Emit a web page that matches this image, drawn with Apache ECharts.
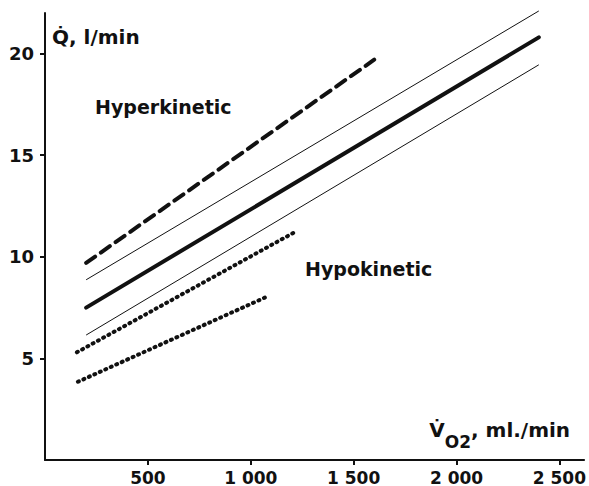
<!DOCTYPE html>
<html>
<head>
<meta charset="utf-8">
<script src="https://cdn.jsdelivr.net/npm/echarts@6/dist/echarts.min.js"></script>
<style>
  html, body { margin: 0; padding: 0; background: #fff; }
  #chart { width: 589px; height: 486px; }
</style>
</head>
<body>
<div id="chart"></div>
<script>
// lines: each one is [x, y] at its two ends (VO2 ml/min, Q l/min)
var upperNormal = [[200, 8.87], [2400, 22.1]];
var meanNormal = [[200, 7.5], [2400, 20.8]];
var lowerNormal = [[200, 6.15], [2400, 19.45]];
var hyperkinetic = [[200, 9.7], [1600, 19.7]];
var hypoUpper = [[155, 5.3], [1220, 11.25]];
var hypoLower = [[160, 3.85], [1070, 8.0]];

var xTicks = [500, 1000, 1500, 2000, 2500];
var xTickLabels = ['500', '1 000', '1 500', '2 000', '2 500'];
var yTicks = [5, 10, 15, 20];

var ink = '#111';
var font = 'DejaVu Sans';

var chart = echarts.init(document.getElementById('chart'), null, { renderer: 'svg' });

function line(data, width, type, cap) {
  return {
    type: 'line',
    data: data,
    symbol: 'none',
    clip: false,
    silent: true,
    lineStyle: { color: ink, width: width, type: type, cap: cap || 'butt' }
  };
}

chart.setOption({
  animation: false,
  backgroundColor: '#fff',
  grid: { left: 45, right: 0, top: 13, bottom: 26 },
  xAxis: {
    type: 'value',
    min: 0,
    max: 2620,
    name: '{v|V\u0307}{sub|O2}{v|, ml./min}',
    nameLocation: 'end',
    nameGap: -14,
    nameTextStyle: {
      align: 'right',
      verticalAlign: 'bottom',
      padding: [0, 0, 10, 0],
      rich: {
        v: { fontFamily: font, fontSize: 20, fontWeight: 'bold', color: ink, lineHeight: 20, verticalAlign: 'top' },
        sub: { fontFamily: font, fontSize: 17, fontWeight: 'bold', color: ink, lineHeight: 30, verticalAlign: 'bottom' }
      }
    },
    axisLine: { lineStyle: { color: ink, width: 2 } },
    axisTick: { show: true, customValues: xTicks, length: 5, lineStyle: { color: ink, width: 2 } },
    axisLabel: {
      customValues: xTicks,
      margin: 9,
      color: ink,
      fontFamily: font,
      fontWeight: 'bold',
      fontSize: 17,
      formatter: function(v) { return xTickLabels[xTicks.indexOf(v)]; }
    },
    splitLine: { show: false }
  },
  yAxis: {
    type: 'value',
    min: 0,
    max: 22,
    name: 'Q\u0307, l/min',
    nameLocation: 'end',
    nameGap: -24,
    nameTextStyle: {
      align: 'left',
      verticalAlign: 'middle',
      padding: [0, 0, 0, 7],
      fontFamily: font,
      fontWeight: 'bold',
      fontSize: 20,
      color: ink
    },
    axisLine: { show: true, lineStyle: { color: ink, width: 2 } },
    axisTick: { show: true, customValues: yTicks, length: 5, lineStyle: { color: ink, width: 2 } },
    axisLabel: {
      customValues: yTicks,
      margin: 11,
      color: ink,
      fontFamily: font,
      fontWeight: 'bold',
      fontSize: 18
    },
    splitLine: { show: false }
  },
  graphic: [
    { type: 'text', left: 95, top: 97, style: { text: 'Hyperkinetic', fill: ink, font: 'bold 19px "DejaVu Sans"' } },
    { type: 'text', left: 305, top: 259, style: { text: 'Hypokinetic', fill: ink, font: 'bold 19px "DejaVu Sans"' } }
  ],
  series: [
    line(upperNormal, 1, 'solid'),
    line(meanNormal, 4, 'solid', 'round'),
    line(lowerNormal, 1, 'solid'),
    line(hyperkinetic, 4, [11, 7], 'round'),
    line(hypoUpper, 4, [1, 5], 'round'),
    line(hypoLower, 4, [1, 5], 'round')
  ]
});
</script>
</body>
</html>
